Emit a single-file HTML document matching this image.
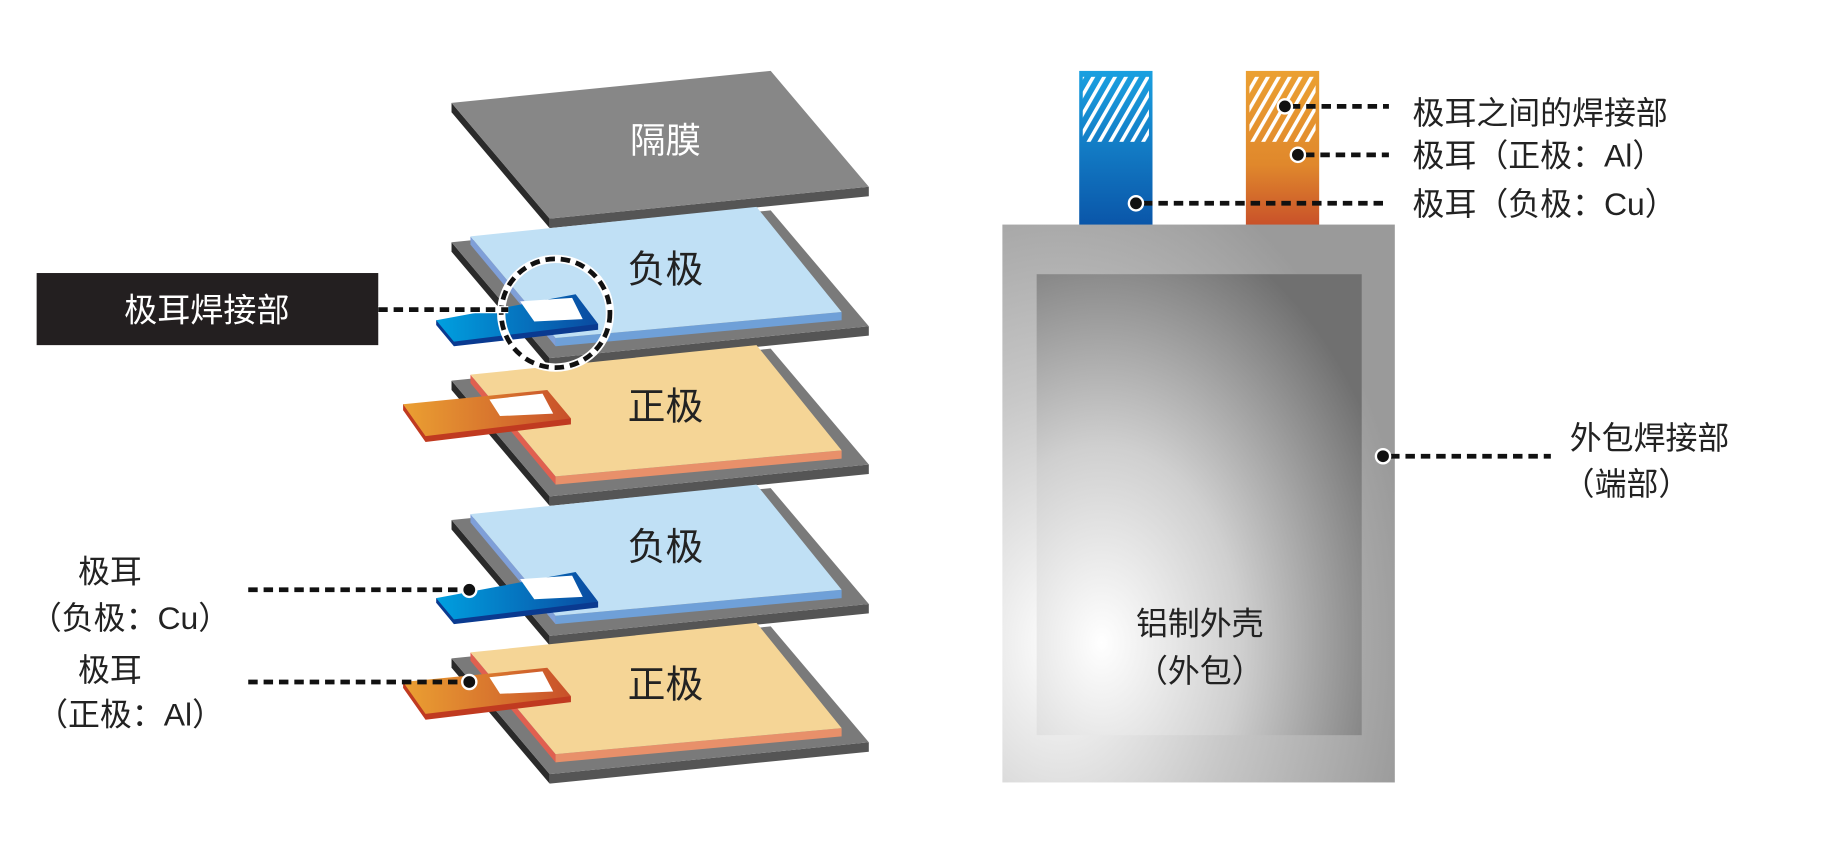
<!DOCTYPE html>
<html><head><meta charset="utf-8"><style>
html,body{margin:0;padding:0;background:#fff;}
svg{display:block;}
text{font-family:"Liberation Sans","Noto Sans CJK SC",sans-serif;}
</style></head><body>
<svg width="1844" height="851" viewBox="0 0 1560 720" preserveAspectRatio="none" xmlns="http://www.w3.org/2000/svg">
<defs>
<linearGradient id="tb" x1="0" y1="0" x2="1" y2="0"><stop offset="0" stop-color="#00a0e0"/><stop offset="1" stop-color="#0a4aa0"/></linearGradient>
<linearGradient id="to" x1="0" y1="0" x2="1" y2="0"><stop offset="0" stop-color="#eba032"/><stop offset="1" stop-color="#c8502a"/></linearGradient>
<linearGradient id="tbv" x1="0" y1="0" x2="0" y2="1"><stop offset="0" stop-color="#1aa0e0"/><stop offset="1" stop-color="#0a55a8"/></linearGradient>
<linearGradient id="tov" x1="0" y1="0" x2="0" y2="1"><stop offset="0" stop-color="#eba032"/><stop offset="0.6" stop-color="#e0882c"/><stop offset="1" stop-color="#c8502a"/></linearGradient>
<radialGradient id="outer" cx="0.15" cy="0.75" r="0.9"><stop offset="0" stop-color="#ffffff"/><stop offset="0.5" stop-color="#c8c8c8"/><stop offset="1" stop-color="#9a9a9a"/></radialGradient>
<radialGradient id="inner" cx="0.2" cy="0.8" r="0.95"><stop offset="0" stop-color="#ffffff"/><stop offset="0.45" stop-color="#cfcfcf"/><stop offset="1" stop-color="#707070"/></radialGradient>
<pattern id="hatch" width="8" height="8" patternUnits="userSpaceOnUse" patternTransform="rotate(30)"><rect width="8" height="8" fill="none"/><rect width="3" height="8" fill="#fff"/></pattern>
<g id="sep">
<polygon points="382,27 465,125 465,133 382,35" fill="#2a2a2a"/>
<polygon points="465,125 735,98 735,106 465,133" fill="#555"/>
<polygon points="382,27 652,0 735,98 465,125" fill="#878787"/>
</g>
<g id="neg">
<polygon points="382,27 465,125 465,133 382,35" fill="#2a2a2a"/>
<polygon points="465,125 735,98 735,106 465,133" fill="#555"/>
<polygon points="382,27 652,0 735,98 465,125" fill="#7a7a7a"/>
<polygon points="398,22 470,108 470,115 398,29" fill="#7f9fd8"/>
<polygon points="470,108 712,86 712,93 470,115" fill="#6fa0d8"/>
<polygon points="398,22 640,-3 712,86 470,108" fill="#c0e0f5"/>
</g>
<g id="pos">
<polygon points="382,27 465,125 465,133 382,35" fill="#2a2a2a"/>
<polygon points="465,125 735,98 735,106 465,133" fill="#555"/>
<polygon points="382,27 652,0 735,98 465,125" fill="#7a7a7a"/>
<polygon points="398,22 470,108 470,115 398,29" fill="#e06050"/>
<polygon points="470,108 712,86 712,93 470,115" fill="#e8906a"/>
<polygon points="398,22 640,-3 712,86 470,108" fill="#f5d596"/>
</g>
<g id="ntab">
<polygon points="369,271 506,274 506,279 384,293 369,275" fill="#0a3a90"/>
<polygon points="369,271 487,249 506,274 384,289" fill="url(#tb)"/>
<polygon points="440,255 484,252 493,270 452,272" fill="#fff"/>
</g>
<g id="ptab">
<polygon points="341,342 483,354 483,359 360,374 341,347" fill="#c03a20"/>
<polygon points="341,342 463,330 483,354 360,369" fill="url(#to)"/>
<polygon points="414,338 459,333 468,350 423,352" fill="#fff"/>
</g>
</defs>

<use href="#sep" transform="translate(0,60)"/>
<text x="563" y="129" font-size="30" fill="#fff" text-anchor="middle">隔膜</text>

<use href="#neg" transform="translate(0,178)"/>
<use href="#ntab"/>
<text x="563" y="239" font-size="32" fill="#222" text-anchor="middle">负极</text>

<use href="#pos" transform="translate(0,295)"/>
<use href="#ptab"/>
<text x="563" y="355" font-size="32" fill="#222" text-anchor="middle">正极</text>

<use href="#neg" transform="translate(0,413)"/>
<use href="#ntab" transform="translate(0,235)"/>
<text x="563" y="474" font-size="32" fill="#222" text-anchor="middle">负极</text>

<use href="#pos" transform="translate(0,530)"/>
<use href="#ptab" transform="translate(0,235)"/>
<text x="563" y="590" font-size="32" fill="#222" text-anchor="middle">正极</text>

<!-- dashed circle -->
<circle cx="470" cy="265" r="46" fill="none" stroke="#fff" stroke-width="7"/>
<circle cx="470" cy="265" r="46" fill="none" stroke="#111" stroke-width="4" stroke-dasharray="8 5"/>

<!-- label box -->
<rect x="31" y="231" width="289" height="61" fill="#231f20"/>
<text x="175" y="272" font-size="28" fill="#fff" text-anchor="middle">极耳焊接部</text>
<line x1="320" y1="262" x2="430" y2="262" stroke="#fff" stroke-width="6"/>
<line x1="320" y1="262" x2="430" y2="262" stroke="#111" stroke-width="4" stroke-dasharray="8 5"/>

<!-- left labels -->
<g font-size="27" fill="#222" text-anchor="middle">
<text x="93" y="493">极耳</text>
<text x="110" y="532">（负极：Cu）</text>
<text x="93" y="576">极耳</text>
<text x="110" y="614">（正极：Al）</text>
</g>
<line x1="210" y1="499" x2="392" y2="499" stroke="#111" stroke-width="4" stroke-dasharray="8 5"/>
<circle cx="397" cy="499" r="6" fill="#111" stroke="#fff" stroke-width="2"/>
<line x1="210" y1="577" x2="392" y2="577" stroke="#111" stroke-width="4" stroke-dasharray="8 5"/>
<circle cx="397" cy="577" r="6" fill="#111" stroke="#fff" stroke-width="2"/>

<!-- right: tabs -->
<rect x="913" y="60" width="62" height="132" fill="url(#tbv)"/>
<rect x="916" y="65" width="56" height="55" fill="url(#hatch)"/>
<rect x="1054" y="60" width="62" height="132" fill="url(#tov)"/>
<rect x="1057" y="65" width="56" height="55" fill="url(#hatch)"/>
<!-- case -->
<rect x="848" y="190" width="332" height="472" fill="url(#outer)"/>
<rect x="877" y="232" width="275" height="390" fill="url(#inner)"/>
<g font-size="27" fill="#222" text-anchor="middle">
<text x="1015" y="537">铝制外壳</text>
<text x="1015" y="577">（外包）</text>
</g>

<!-- right callouts -->
<line x1="1092" y1="90" x2="1175" y2="90" stroke="#111" stroke-width="4" stroke-dasharray="8 5"/>
<circle cx="1087" cy="90" r="6" fill="#111" stroke="#fff" stroke-width="2"/>
<line x1="1104" y1="131" x2="1175" y2="131" stroke="#111" stroke-width="4" stroke-dasharray="8 5"/>
<circle cx="1098" cy="131" r="6" fill="#111" stroke="#fff" stroke-width="2"/>
<line x1="967" y1="172" x2="1175" y2="172" stroke="#111" stroke-width="4" stroke-dasharray="8 5"/>
<circle cx="961" cy="172" r="6" fill="#111" stroke="#fff" stroke-width="2"/>
<line x1="1176" y1="386" x2="1312" y2="386" stroke="#111" stroke-width="4" stroke-dasharray="8 5"/>
<circle cx="1170" cy="386" r="6" fill="#111" stroke="#fff" stroke-width="2"/>
<g font-size="27" fill="#222">
<text x="1195" y="105">极耳之间的焊接部</text>
<text x="1195" y="141">极耳（正极：Al）</text>
<text x="1195" y="182">极耳（负极：Cu）</text>
<text x="1328" y="380">外包焊接部</text>
<text x="1322" y="419">（端部）</text>
</g>
</svg>
</body></html>
